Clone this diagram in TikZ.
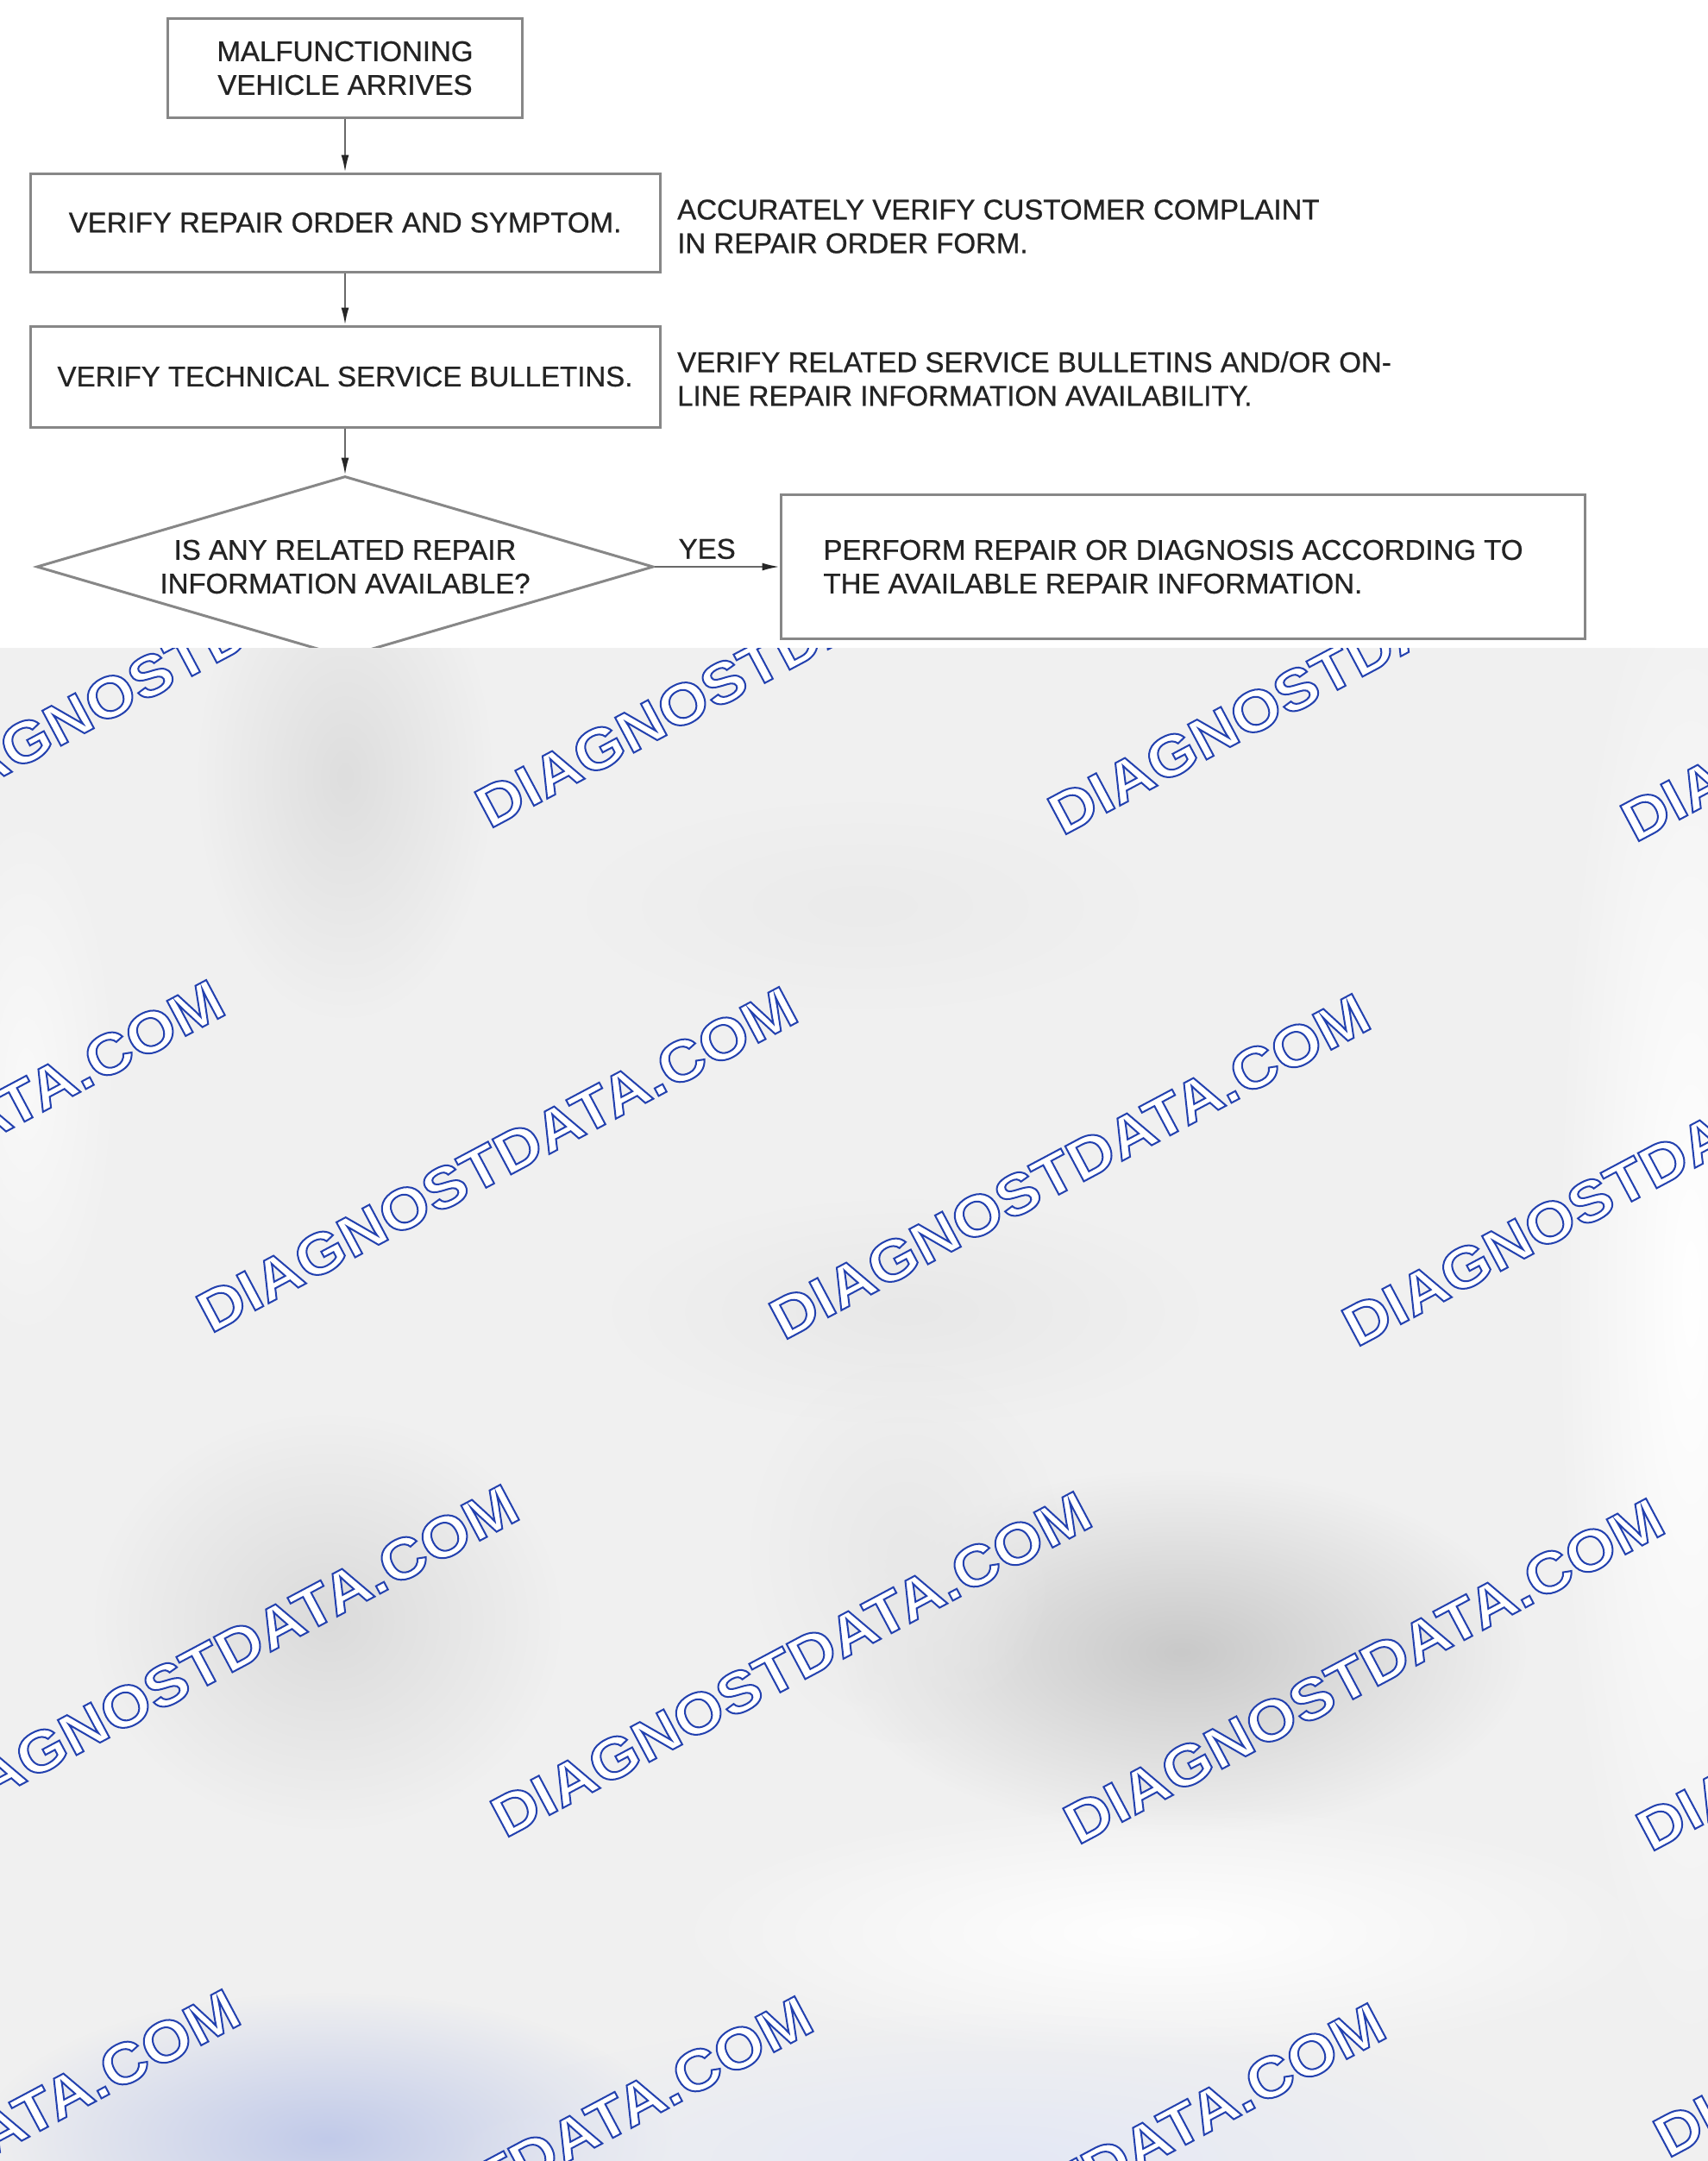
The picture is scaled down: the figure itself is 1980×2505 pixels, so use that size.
\documentclass[tikz,border=0pt]{standalone}
\usepackage{fontspec}
\setmainfont{Liberation Sans}[FakeBold=0.7]
\newfontfamily\wmfont[FakeStretch=1.1, FakeBold=3]{Liberation Sans Bold}
\newcommand\wmtext{\special{pdf:literal direct 0.137 0.255 0.686 RG}DIAGNOSTDATA.COM}
\usetikzlibrary{shapes.geometric,arrows.meta,fadings}
\definecolor{boxline}{RGB}{135,135,135}
\definecolor{connline}{RGB}{105,105,105}
\definecolor{txt}{RGB}{35,35,35}
\definecolor{bggray}{RGB}{240,240,240}
\definecolor{wmblue}{RGB}{35,65,175}
\tikzfading[name=softblob, inner color=transparent!0, outer color=transparent!100]
\begin{document}
\begin{tikzpicture}[x=1pt,y=-1pt,
  box/.style={draw=boxline, line width=3pt, fill=white, text=txt,
    font=\fontsize{33}{39}\selectfont, align=center, inner sep=0pt},
  decision/.style={box, diamond, aspect=3.4},
  note/.style={text=txt, font=\fontsize{33}{39}\selectfont, align=left,
    inner sep=0pt, anchor=west},
  conn/.style={draw=connline, line width=2pt,
    -{Latex[length=20pt,width=9pt,color=black!85]}},
  wm/.style={rotate=28, text=white, inner sep=0pt,
    font=\wmfont\fontsize{67}{67}\selectfont},
  blob/.style={path fading=softblob}
]
\useasboundingbox (0,0) rectangle (1980,2505);
\fill[white] (0,0) rectangle (1980,2505);

% flowchart
\node[box, minimum width=411pt, minimum height=114pt] (b1) at (400,79)
  {MALFUNCTIONING\\VEHICLE ARRIVES};
\node[box, minimum width=730pt, minimum height=114pt] (b2) at (400,258)
  {VERIFY REPAIR ORDER AND SYMPTOM.};
\node[box, minimum width=730pt, minimum height=117pt] (b3) at (400,436.5)
  {VERIFY TECHNICAL SERVICE BULLETINS.};
\node[decision, minimum width=715pt, minimum height=210pt] (d1) at (400,657)
  {IS ANY RELATED REPAIR\\INFORMATION AVAILABLE?};
\node[box, align=left, minimum width=932pt, minimum height=167pt] (b4) at (1371,657)
  {PERFORM REPAIR OR DIAGNOSIS ACCORDING TO\hspace*{22pt}\\THE AVAILABLE REPAIR INFORMATION.};
\node[note] (n1) at (785,262.5)
  {ACCURATELY VERIFY CUSTOMER COMPLAINT\\IN REPAIR ORDER FORM.};
\node[note] (n2) at (785,439)
  {VERIFY RELATED SERVICE BULLETINS AND/OR ON-\\LINE REPAIR INFORMATION AVAILABILITY.};

\draw[conn] (b1.south) -- (b2.north);
\draw[conn] (b2.south) -- (b3.north);
\draw[conn] (b3.south) -- (d1.north);
\draw[conn] (d1.east) -- node[pos=0.42, above=8pt, text=txt, inner sep=0pt,
  font=\fontsize{33}{39}\selectfont] (yes) {YES} (b4.west);

% watermark area
\begin{scope}
\clip (0,751) rectangle (1980,2505);
\fill[bggray] (0,751) rectangle (1980,2505);
\fill[black!13, blob] (400,900) ellipse [x radius=170, y radius=280];
\fill[black!21, blob] (1370,1915) ellipse [x radius=400, y radius=210];
\fill[black!14, blob] (380,1880) ellipse [x radius=270, y radius=240];
\fill[black!9, blob] (1050,1520) ellipse [x radius=340, y radius=130];
\fill[black!8, blob] (1000,1050) ellipse [x radius=320, y radius=120];
\fill[black!9, blob] (1050,1800) ellipse [x radius=180, y radius=220];
\fill[white, blob] (1960,1500) ellipse [x radius=160, y radius=900];
\fill[white, blob] (1350,2240) ellipse [x radius=580, y radius=150];
\fill[white!60!bggray, blob] (30,1250) ellipse [x radius=110, y radius=320];
\fill[wmblue!28, blob] (380,2480) ellipse [x radius=400, y radius=170];
\fill[wmblue!12, blob] (1150,2505) ellipse [x radius=650, y radius=170];

\foreach \i/\x/\y in {a/235/751, b/899/759, c/1563/767, d/2227/775,
    e/-88/1336, f/576/1344, g/1240/1352, h/1904/1360,
    i/253/1921, j/917/1929, k/1581/1937, l/2245/1945,
    m/-70/2506, n/594/2514, o/1258/2522, p/2265/2300}
  \node[wm] (wm\i) at (\x,\y) {\wmtext};
\end{scope}
\end{tikzpicture}
\end{document}
